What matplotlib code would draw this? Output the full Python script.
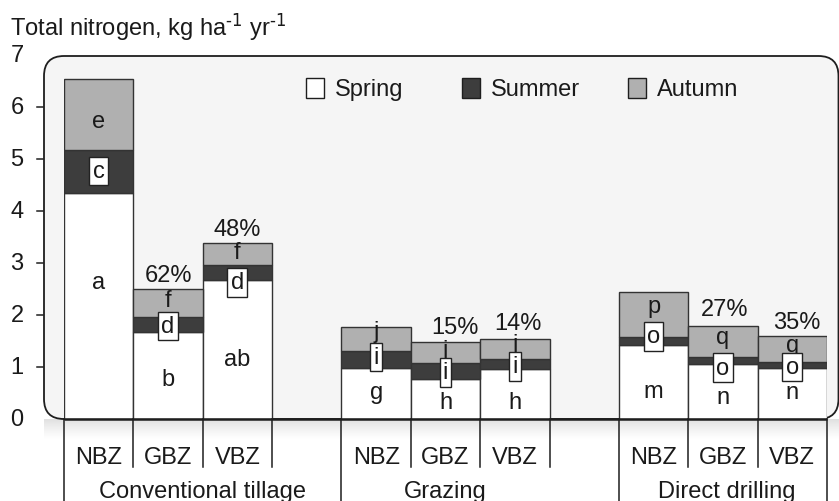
import matplotlib
matplotlib.use('Agg')
import matplotlib.pyplot as plt
from matplotlib.patches import FancyBboxPatch, Rectangle
import matplotlib.transforms as mtransforms
import numpy as np

plt.rcParams['font.family'] = ['Liberation Sans', 'DejaVu Sans']
plt.rcParams['mathtext.default'] = 'regular'

# ---------------- data ----------------
groups = ['Conventional tillage', 'Grazing', 'Direct drilling']
zones = ['NBZ', 'GBZ', 'VBZ']
spring = [4.35, 1.67, 2.68, 0.98, 0.76, 0.96, 1.42, 1.05, 0.99]
summer = [0.83, 0.30, 0.28, 0.33, 0.31, 0.20, 0.15, 0.15, 0.11]
autumn = [1.36, 0.53, 0.43, 0.45, 0.42, 0.37, 0.87, 0.58, 0.49]
spring_letters = ['a', 'b', 'ab', 'g', 'h', 'h', 'm', 'n', 'n']
summer_letters = ['c', 'd', 'd', 'i', 'i', 'i', 'o', 'o', 'o']
autumn_letters = ['e', 'f', 'f', 'j', 'j', 'j', 'p', 'q', 'q']
pct_labels = [None, '62%', '48%', None, '15%', '14%', None, '27%', '35%']
yticks = [0, 1, 2, 3, 4, 5, 6, 7]

# label positions (layout, data units)
spring_lab_y = [2.63, 0.77, 1.15, 0.52, 0.33, 0.33, 0.54, 0.42, 0.52]
summer_lab_y = [4.77, 1.79, 2.63, 1.19, 0.90, 1.01, 1.59, 0.99, 1.00]
autumn_lab_y = [5.74, 2.29, 3.22, 1.69, 1.33, 1.45, 2.17, 1.57, 1.43]
pct_dx = [0, 0, 0, 0, 0.13, 0.05, 0, 0.03, 0.07]
pct_dy = [0, 0.27, 0.27, 0, 0.27, 0.31, 0, 0.33, 0.27]

# ---------------- style ----------------
W, H = 839, 502
FS = 17
c_spring, c_summer, c_autumn = '#ffffff', '#3d3d3d', '#b0b0b0'
edge = '#333333'
dark = '#1e1e1e'
tcol = '#1a1a1a'

fig = plt.figure(figsize=(W / 100, H / 100), dpi=100)

# background axes in pixel coordinates
bg = fig.add_axes([0, 0, 1, 1], zorder=0)
bg.set_xlim(0, W)
bg.set_ylim(H, 0)
bg.axis('off')

# rounded panel
panel = FancyBboxPatch((44, 57), 794.5, 363,
                       boxstyle='round,pad=0,rounding_size=20',
                       facecolor='#f5f5f5', edgecolor=dark, linewidth=1.3, zorder=1)
bg.add_patch(panel)

# soft shadow under panel
grad = np.zeros((40, 1, 4))
grad[:, 0, 3] = np.linspace(0.2, 0.0, 40) ** 1.3
bg.imshow(grad, extent=(44, 839, 442, 420), aspect='auto', zorder=0.5,
          interpolation='bilinear')
bg.set_xlim(0, W)
bg.set_ylim(H, 0)

# main data axes
ax = fig.add_axes([64 / W, (H - 420) / H, (827 - 64) / W, (420 - 56) / H], zorder=1)
ax.patch.set_visible(False)
ax.set_xlim(-0.5, 10.5)
ax.set_ylim(0, 7)
ax.axis('off')

x = [g * 4 + z for g in range(len(groups)) for z in range(len(zones))]
spring_a = np.array(spring)
summer_a = np.array(summer)
autumn_a = np.array(autumn)

ax.bar(x, spring_a, width=1.0, color=c_spring, edgecolor=edge, linewidth=1.0, zorder=2)
ax.bar(x, summer_a, width=1.0, bottom=spring_a, color=c_summer, edgecolor=edge,
       linewidth=1.0, zorder=2)
ax.bar(x, autumn_a, width=1.0, bottom=spring_a + summer_a, color=c_autumn,
       edgecolor=edge, linewidth=1.0, zorder=2)

totals = spring_a + summer_a + autumn_a
for i, xi in enumerate(x):
    ax.text(xi, spring_lab_y[i], spring_letters[i], ha='center', va='center',
            fontsize=FS, color=tcol, zorder=4)
    ax.text(xi, autumn_lab_y[i], autumn_letters[i], ha='center', va='center',
            fontsize=FS, color=tcol, zorder=4)
    ax.text(xi, summer_lab_y[i], summer_letters[i], ha='center', va='center',
            fontsize=FS, color=tcol, zorder=5,
            bbox=dict(boxstyle='square,pad=0.14', facecolor='white',
                      edgecolor='#222222', linewidth=1.0))
    if pct_labels[i]:
        ax.text(xi + pct_dx[i], totals[i] + pct_dy[i], pct_labels[i], ha='center',
                va='center', fontsize=FS, color=tcol, zorder=4)

# baseline
ax.plot([-0.5, 10.5], [0, 0], color=dark, linewidth=1.8, zorder=6,
        solid_capstyle='butt', clip_on=False)

# category axis below
tr_x = mtransforms.blended_transform_factory(ax.transData, bg.transData)
full_lines = []
short_lines = []
for g in range(len(groups)):
    left = g * 4 - 0.5
    full_lines.append(left)
    for z in range(1, len(zones) + 1):
        short_lines.append(left + z)
full_lines.append(10.5)
short_lines = [s for s in short_lines if s not in full_lines]
for xl in full_lines:
    ax.plot([xl, xl], [420, 503], color=dark, linewidth=1.1, transform=tr_x,
            clip_on=False, zorder=6)
for xl in short_lines:
    ax.plot([xl, xl], [420, 468], color=dark, linewidth=1.1, transform=tr_x,
            clip_on=False, zorder=6)
for i, xi in enumerate(x):
    ax.text(xi, 458, zones[i % 3], ha='center', va='center', fontsize=FS,
            color=tcol, transform=tr_x)
group_x = [1.5, 5, 9.05]
for g, name in enumerate(groups):
    ax.text(group_x[g], 492, name, ha='center', va='center', fontsize=FS,
            color=tcol, transform=tr_x)

# y ticks
tr_y = mtransforms.blended_transform_factory(bg.transData, ax.transData)
for v in yticks:
    if 0 < v < 7:
        ax.plot([37, 43], [v, v], color=dark, linewidth=1.1, transform=tr_y,
                clip_on=False, zorder=6)
    ax.text(17, v, str(v), ha='center', va='center', fontsize=FS, color=tcol,
            transform=tr_y)

# title
bg.text(10, 27, r'Total nitrogen, kg ha$^{\text{-1}}$ yr$^{\text{-1}}$', ha='left',
        va='center', fontsize=FS, color=tcol, zorder=3)

# legend
leg_items = [('Spring', c_spring), ('Summer', c_summer), ('Autumn', c_autumn)]
leg_sq_x = [306, 462, 628]
for (name, col), sx in zip(leg_items, leg_sq_x):
    bg.add_patch(Rectangle((sx, 79), 18, 20, facecolor=col, edgecolor=dark,
                           linewidth=1.0, zorder=3))
    bg.text(sx + 29, 90, name, ha='left', va='center', fontsize=FS,
            color=tcol, zorder=3)

fig.savefig('out.png', dpi=100)
